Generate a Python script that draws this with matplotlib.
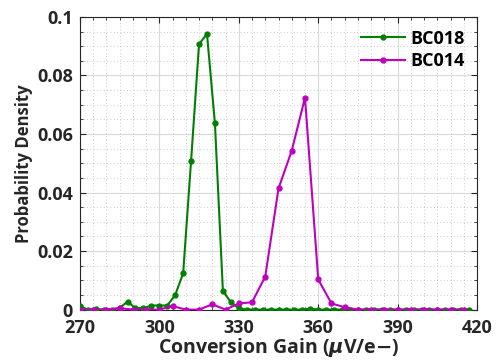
import numpy as np
import matplotlib
matplotlib.use("Agg")
import matplotlib.pyplot as plt
from matplotlib.ticker import MultipleLocator

# BC018: bins every 3 uV/e- from 270 to 417
bc018_x = list(range(270, 418, 3))
bc018_y = [0.0012, 0.0, 0.0002, 0.0, 0.0, 0.0006, 0.0027, 0.0005, 0.0005, 0.0014,
           0.0014, 0.0014, 0.0050, 0.0124, 0.0509, 0.0907, 0.0942, 0.0636, 0.0064, 0.0025,
           0.0004, 0.0, 0.0, 0.0, 0.0, 0.0, 0.0, 0.0, 0.0, 0.0003,
           0.0, 0.0, 0.0, 0.0, 0.0, 0.0, 0.0, 0.0, 0.0, 0.0,
           0.0, 0.0, 0.0, 0.0, 0.0, 0.0, 0.0, 0.0, 0.0, 0.0]

# BC014: bins every 5 uV/e- from 270 to 415
bc014_x = list(range(270, 416, 5))
bc014_y = [0.0, 0.0, 0.0, 0.0005, 0.0, 0.0, 0.0, 0.0012, 0.0, 0.0,
           0.0018, 0.0, 0.0021, 0.0025, 0.0113, 0.0414, 0.0543, 0.0724, 0.0103, 0.0021,
           0.0008, 0.0, 0.0, 0.0, 0.0, 0.0, 0.0, 0.0, 0.0, 0.0]

x_ticks = [270, 300, 330, 360, 390, 420]
y_ticks = [0, 0.02, 0.04, 0.06, 0.08, 0.1]
y_tick_labels = ["0", "0.02", "0.04", "0.06", "0.08", "0.1"]

plt.rcParams['font.family'] = ['Open Sans', 'DejaVu Sans']
plt.rcParams['font.weight'] = 'bold'
plt.rcParams['mathtext.fontset'] = 'dejavusans'

fig = plt.figure(figsize=(4.96, 3.6), dpi=100)
ax = fig.add_axes([0.161, 0.14, 0.801, 0.813])

green = '#008000'
magenta = '#bf00bf'
ax.plot(bc018_x, bc018_y, '-o', color=green, lw=1.5, ms=3.5, label='BC018', zorder=3)
ax.plot(bc014_x, bc014_y, '-o', color=magenta, lw=1.5, ms=3.5, label='BC014', zorder=3)

ax.set_xlim(270, 420)
ax.set_ylim(0, 0.1)
ax.set_xticks(x_ticks)
ax.set_yticks(y_ticks)
ax.set_yticklabels(y_tick_labels)
ax.xaxis.set_minor_locator(MultipleLocator(5))
ax.yaxis.set_minor_locator(MultipleLocator(0.005))

ax.grid(which='major', color='#d9d9d9', lw=0.8, ls='-')
ax.grid(which='minor', color='#bbbbbb', lw=0.6, ls=(0, (1, 3)))
ax.set_axisbelow(True)

ax.tick_params(which='both', direction='in', top=True, right=True, colors='#262626',
               labelsize=13)
ax.tick_params(axis='x', which='major', pad=7)
ax.tick_params(axis='y', which='major', pad=5)
ax.tick_params(which='major', length=4)
ax.tick_params(which='minor', length=2)
for lab in ax.get_xticklabels() + ax.get_yticklabels():
    lab.set_fontweight('bold')
for sp in ax.spines.values():
    sp.set_color('#262626')
    sp.set_linewidth(0.8)

ax.set_xlabel(r'Conversion Gain ($\mu$V/e$-$)', fontsize=14, fontweight='bold',
              color='#262626', labelpad=-1)
ax.set_ylabel('Probability Density', fontsize=12, fontweight='bold', color='#262626',
              labelpad=3)

leg = ax.legend(loc='upper right', frameon=False, fontsize=13, handlelength=2.4,
                borderaxespad=0.3, labelspacing=0.25, handletextpad=0.3)
for t in leg.get_texts():
    t.set_fontweight('bold')

fig.savefig('out.png', dpi=100)
